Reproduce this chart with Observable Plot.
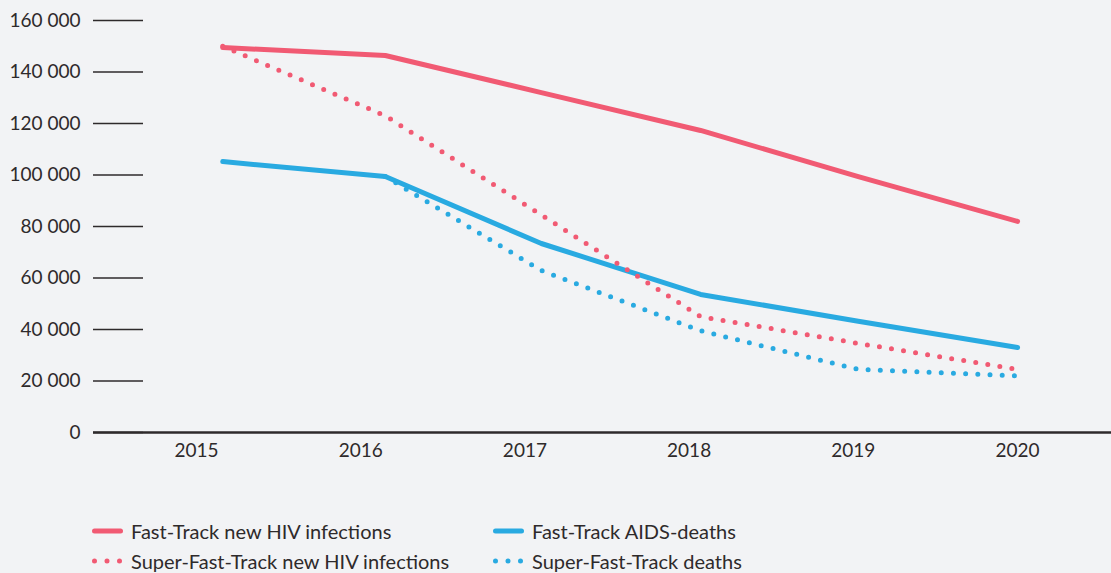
<!DOCTYPE html>
<html>
<head>
<meta charset="utf-8">
<script src="https://cdn.jsdelivr.net/npm/d3@7"></script>
<script src="https://cdn.jsdelivr.net/npm/@observablehq/plot@0.6"></script>
<style>
  html, body { margin: 0; padding: 0; background: #f2f3f5; }
  body { width: 1111px; height: 573px; position: relative; overflow: hidden; font-family: Lato, "Open Sans", sans-serif; color: #2e2a2b; }
  #legend { position: absolute; left: 92px; top: 516px; font-size: 20px; }
  .row { display: flex; height: 30px; align-items: center; }
  .item { display: flex; align-items: center; }
  .item svg { margin-right: 8px; }
</style>
</head>
<body>
<div id="chart"></div>
<div id="legend"></div>
<script>
// Year positions of each plotted vertex as they fall in the picture, tick years for the axis
const xTickYears = [2015, 2016, 2017, 2018, 2019, 2020];
const pointYears = [2015.16, 2016.15, 2017.1, 2018.07, 2019.03, 2020.0];
const yTicks = [0, 20000, 40000, 60000, 80000, 100000, 120000, 140000, 160000];

const ftInfections  = [149500, 146400, 132000, 117300, 99400, 82000];
const sftInfections = [150000, 123000, 84500, 45000, 34600, 24500];
const ftDeaths      = [105200, 99400, 73400, 53600, 43200, 33000];
const sftDeaths     = [null, 99400, 62900, 39500, 24500, 22000];

const seriesNames = [
  "Fast-Track new HIV infections",
  "Fast-Track AIDS-deaths",
  "Super-Fast-Track new HIV infections",
  "Super-Fast-Track deaths"
];

const RED = "#f15a73";
const BLUE = "#29aae1";
const INK = "#2e2a2b";

const toRows = vals => pointYears.map((x, i) => ({x, y: vals[i]})).filter(d => d.y != null);
const fmt = v => d3.format(",")(v).replace(/,/g, " ");

const dotted = {strokeWidth: 5, strokeDasharray: "0 12.2", strokeLinecap: "round", strokeLinejoin: "round"};
const solid = {strokeWidth: 5, strokeLinecap: "round", strokeLinejoin: "round"};

const chart = Plot.plot({
  width: 1111,
  height: 470,
  marginTop: 20,
  marginBottom: 38,
  marginLeft: 93,
  marginRight: 0,
  style: {background: "transparent", fontFamily: "Lato, 'Open Sans', sans-serif", fontSize: "19px", color: INK, overflow: "visible"},
  x: {domain: [2014.373, 2020.572]},
  y: {domain: [0, 160000]},
  marks: [
    Plot.axisY({ticks: yTicks, tickFormat: fmt, tickSize: 50, dx: 50, tickPadding: 13, label: null, stroke: INK, strokeWidth: 1.4, fill: INK, fontSize: 19}),
    Plot.axisX({ticks: xTickYears, tickFormat: d => String(d), tickSize: 0, tickPadding: 11, label: null, fill: INK, fontSize: 19}),
    Plot.ruleY([0], {stroke: INK, strokeWidth: 2.6}),
    Plot.line(toRows(ftInfections), {x: "x", y: "y", stroke: RED, ...solid}),
    Plot.line(toRows(ftDeaths), {x: "x", y: "y", stroke: BLUE, ...solid}),
    Plot.line(toRows(sftInfections), {x: "x", y: "y", stroke: RED, ...dotted}),
    Plot.line(toRows(sftDeaths), {x: "x", y: "y", stroke: BLUE, ...dotted})
  ]
});
document.getElementById("chart").appendChild(chart);

// Legend
const legendItems = [
  [{name: seriesNames[0], color: RED, dots: false, w: 401}, {name: seriesNames[1], color: BLUE, dots: false}],
  [{name: seriesNames[2], color: RED, dots: true, w: 401}, {name: seriesNames[3], color: BLUE, dots: true}]
];
const legend = d3.select("#legend");
for (const row of legendItems) {
  const r = legend.append("div").attr("class", "row");
  for (const it of row) {
    const item = r.append("div").attr("class", "item");
    if (it.w) item.style("width", it.w + "px");
    const s = item.append("svg").attr("width", 31).attr("height", 10);
    const ln = s.append("line").attr("x1", 2.5).attr("x2", 28.5).attr("y1", 5).attr("y2", 5)
      .attr("stroke", it.color).attr("stroke-width", 5).attr("stroke-linecap", "round");
    if (it.dots) ln.attr("stroke-dasharray", "0 12.5");
    item.append("span").text(it.name);
  }
}
</script>
</body>
</html>
